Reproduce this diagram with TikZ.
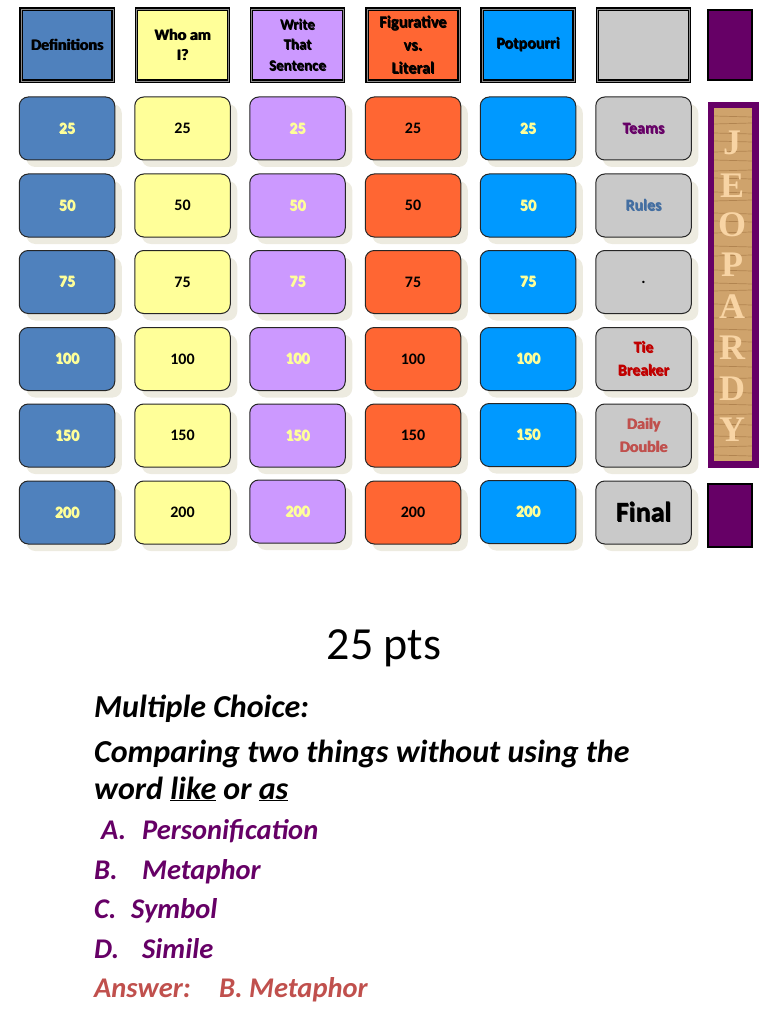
\documentclass[tikz,border=0pt]{standalone}
\usepackage{fontspec}
\setmainfont{Carlito}
\newfontfamily\woodfont{Liberation Serif}
\usetikzlibrary{shadows}

\definecolor{defblue}{HTML}{4F81BD}
\definecolor{whoyellow}{HTML}{FFFF99}
\definecolor{wrtpurple}{HTML}{CC99FF}
\definecolor{figorange}{HTML}{FF6633}
\definecolor{potblue}{HTML}{0099FF}
\definecolor{sidegray}{HTML}{C9C9C9}
\definecolor{plum}{HTML}{660066}
\definecolor{tiered}{HTML}{C00000}
\definecolor{softred}{HTML}{C0504D}
\definecolor{tileshadow}{HTML}{EDEBE0}
\definecolor{paleyellow}{HTML}{FFFF99}
\definecolor{woodbase}{HTML}{CFA36C}
\definecolor{woodline}{HTML}{9A6B3A}
\definecolor{woodletter}{HTML}{F8D4A4}

% text with a small offset shadow: shadow colour, text colour, text
\newcommand{\shtxt}[3]{\leavevmode\rlap{\kern.8pt\raisebox{-.8pt}{\textcolor{#1}{#2#3}}}\textcolor{#1}{}#2#3}

\tikzset{
  tile/.style={draw=black!85,line width=1pt,rounded corners=9pt,minimum width=95.5pt,minimum height=63pt,
    inner sep=0pt,align=center,font=\fontsize{16}{23}\selectfont\bfseries,
    drop shadow={shadow xshift=7pt,shadow yshift=-7pt,fill=tileshadow,opacity=1}},
  head/.style={draw=black,line width=1.5pt,double=white!55!black,double distance=.9pt,minimum width=92pt,minimum height=72pt,
    inner sep=0pt,align=center,font=\fontsize{16}{21}\selectfont\bfseries},
  corner/.style={draw=black,line width=2.5pt,fill=plum,minimum width=44pt},
  body/.style={anchor=base west,inner sep=0pt,font=\fontsize{32}{32}\selectfont\bfseries\itshape},
  choice/.style={body,text=plum,font=\fontsize{28.5}{32}\selectfont\bfseries\itshape},
  woodchar/.style={text=woodletter,inner sep=0pt,font=\fontsize{36}{36}\selectfont\woodfont\bfseries},
  streak/.style={draw=woodline,line width=.7pt,opacity=.55}
}

\begin{document}
\begin{tikzpicture}[x=1pt,y=-1pt]
\useasboundingbox (0,0) rectangle (768,1024);

% top row
\node[head,fill=defblue] (hdef) at (67,45) {\shtxt{white}{\color{black}}{Definitions}};
\node[head,fill=whoyellow] (hwho) at (182.5,45) {\shtxt{black!30}{\color{black}}{Who am}\\[-1pt]\shtxt{black!30}{\color{black}}{I?}};
\node[head,fill=wrtpurple,font=\fontsize{15}{20.5}\selectfont\bfseries] (hwrt) at (297.5,45) {\shtxt{white}{\color{black}}{Write}\\\shtxt{white}{\color{black}}{That}\\\shtxt{white}{\color{black}}{Sentence}};
\node[head,fill=figorange,font=\fontsize{16.5}{23}\selectfont\bfseries] (hfig) at (413,45) {\shtxt{white}{\color{black}}{Figurative}\\\shtxt{white}{\color{black}}{vs.}\\\shtxt{white}{\color{black}}{Literal}};
\node[head,fill=potblue] (hpot) at (528,45) {\shtxt{white}{\color{black}}{Potpourri}};
\node[head,fill=sidegray] (hblank) at (643.5,45) {};
\node[corner,minimum height=70pt] (cornertop) at (730,45) {};

% first column
\node[tile,fill=defblue] (def25) at (67,128.5) {\shtxt{black!70}{\color{paleyellow}}{25}};
\node[tile,fill=defblue] (def50) at (67,205.5) {\shtxt{black!70}{\color{paleyellow}}{50}};
\node[tile,fill=defblue] (def75) at (67,282) {\shtxt{black!70}{\color{paleyellow}}{75}};
\node[tile,fill=defblue] (def100) at (67,359) {\shtxt{black!70}{\color{paleyellow}}{100}};
\node[tile,fill=defblue] (def150) at (67,435.5) {\shtxt{black!70}{\color{paleyellow}}{150}};
\node[tile,fill=defblue] (def200) at (67,512.5) {\shtxt{black!70}{\color{paleyellow}}{200}};

% second column
\node[tile,fill=whoyellow] (who25) at (182.5,128.5) {25};
\node[tile,fill=whoyellow] (who50) at (182.5,205.5) {50};
\node[tile,fill=whoyellow] (who75) at (182.5,282) {75};
\node[tile,fill=whoyellow] (who100) at (182.5,359) {100};
\node[tile,fill=whoyellow] (who150) at (182.5,435.5) {150};
\node[tile,fill=whoyellow] (who200) at (182.5,512.5) {200};

% third column
\node[tile,fill=wrtpurple] (wrt25) at (297.5,128.5) {\shtxt{black!70}{\color{paleyellow}}{25}};
\node[tile,fill=wrtpurple] (wrt50) at (297.5,205.5) {\shtxt{black!70}{\color{paleyellow}}{50}};
\node[tile,fill=wrtpurple] (wrt75) at (297.5,282) {\shtxt{black!70}{\color{paleyellow}}{75}};
\node[tile,fill=wrtpurple] (wrt100) at (297.5,359) {\shtxt{black!70}{\color{paleyellow}}{100}};
\node[tile,fill=wrtpurple] (wrt150) at (297.5,435.5) {\shtxt{black!70}{\color{paleyellow}}{150}};
\node[tile,fill=wrtpurple] (wrt200) at (297.5,511.5) {\shtxt{black!70}{\color{paleyellow}}{200}};

% fourth column
\node[tile,fill=figorange] (fig25) at (413,128.5) {25};
\node[tile,fill=figorange] (fig50) at (413,205.5) {50};
\node[tile,fill=figorange] (fig75) at (413,282) {75};
\node[tile,fill=figorange] (fig100) at (413,359) {100};
\node[tile,fill=figorange] (fig150) at (413,435.5) {150};
\node[tile,fill=figorange] (fig200) at (413,512.5) {200};

% fifth column
\node[tile,fill=potblue] (pot25) at (528,128.5) {\shtxt{black!70}{\color{paleyellow}}{25}};
\node[tile,fill=potblue] (pot50) at (528,205.5) {\shtxt{black!70}{\color{paleyellow}}{50}};
\node[tile,fill=potblue] (pot75) at (528,282) {\shtxt{black!70}{\color{paleyellow}}{75}};
\node[tile,fill=potblue] (pot100) at (528,359) {\shtxt{black!70}{\color{paleyellow}}{100}};
\node[tile,fill=potblue] (pot150) at (528,435) {\shtxt{black!70}{\color{paleyellow}}{150}};
\node[tile,fill=potblue] (pot200) at (528,512) {\shtxt{black!70}{\color{paleyellow}}{200}};

% side column
\node[tile,fill=sidegray] (teams) at (643.5,128.5) {\shtxt{black!55}{\color{plum}}{Teams}};
\node[tile,fill=sidegray] (rules) at (643.5,205.5) {\shtxt{black!45}{\color{defblue!85!black}}{Rules}};
\node[tile,fill=sidegray] (dot) at (643.5,282) {.};
\node[tile,fill=sidegray] (tie) at (643.5,359) {\shtxt{black!60}{\color{tiered}}{Tie}\\\shtxt{black!60}{\color{tiered}}{Breaker}};
\node[tile,fill=sidegray] (daily) at (643.5,435.5) {\shtxt{black!45}{\color{softred}}{Daily}\\\shtxt{black!45}{\color{softred}}{Double}};
\node[tile,fill=sidegray,font=\fontsize{28}{30}\selectfont\bfseries] (final) at (643.5,512.5) {\shtxt{white}{\color{black}}{Final}};
\node[corner,minimum height=63pt] (cornerlow) at (730,515.5) {};

% wood panel
\fill[plum] (707.5,102) rectangle (758.5,468);
\fill[woodbase] (714,108) rectangle (752,461);
\foreach \ya/\yb in {116/117,124/123,133/134,141/142,152/151,160/161,171/170,178/179,192/193,201/200,213/214,221/222,233/232,246/247,256/255,270/271,283/284,291/290,304/305,318/317,329/330,341/342,352/351,366/367,379/378,392/393,404/405,415/414,424/425,436/437,447/446,455/456}
  \draw[streak] (714,\ya) -- (752,\yb);
\node[woodchar] (lj) at (732,143) {J};
\node[woodchar] (le) at (732,186) {E};
\node[woodchar] (lo) at (732,225) {O};
\node[woodchar] (lp) at (732,265) {P};
\node[woodchar] (la) at (732,307) {A};
\node[woodchar] (lr) at (732,348) {R};
\node[woodchar] (ld) at (732,389) {D};
\node[woodchar] (ly) at (732,430) {Y};

% question
\node[inner sep=0pt,font=\fontsize{46}{46}\selectfont] (title) at (384,648) {25 pts};
\node[body] (qhead) at (94,717) {Multiple Choice:};
\node[body] (qline) at (94,762) {Comparing two things without using the};
\node[body] (qword) at (94,799) {word \underline{like} or \underline{as}};
\node[choice] (opta) at (101,839) {\makebox[41pt][l]{A.}Personification};
\node[choice] (optb) at (94,879) {\makebox[48pt][l]{B.}Metaphor};
\node[choice] (optc) at (94,918) {\makebox[37pt][l]{C.}Symbol};
\node[choice] (optd) at (94,958) {\makebox[48pt][l]{D.}Simile};
\node[choice,text=softred] (answer) at (94,997) {\makebox[125pt][l]{Answer:}B. Metaphor};
\end{tikzpicture}
\end{document}
